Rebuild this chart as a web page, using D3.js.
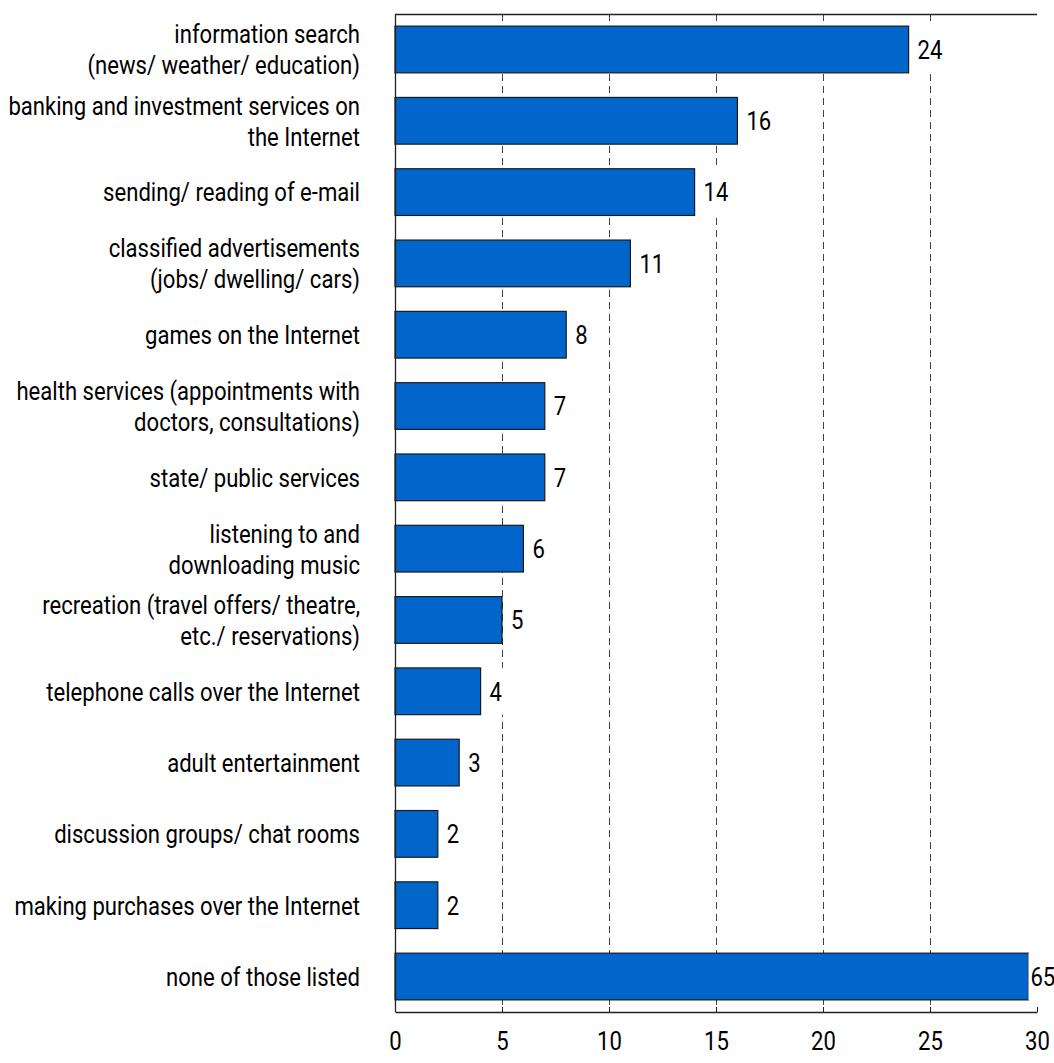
<!DOCTYPE html>
<html><head><meta charset="utf-8">
<script src="https://cdn.jsdelivr.net/npm/d3@7"></script>
<style>body{margin:0;background:#fff}svg text{font-family:Roboto,"DejaVu Sans Condensed",sans-serif;fill:#000}</style>
</head><body><svg id="c" width="1054" height="1063"></svg>
<script>
const categories = [
  ["information search","(news/ weather/ education)"],
  ["banking and investment services on","the Internet"],
  ["sending/ reading of e-mail"],
  ["classified advertisements","(jobs/ dwelling/ cars)"],
  ["games on the Internet"],
  ["health services (appointments with","doctors, consultations)"],
  ["state/ public services"],
  ["listening to and","downloading music"],
  ["recreation (travel offers/ theatre,","etc./ reservations)"],
  ["telephone calls over the Internet"],
  ["adult entertainment"],
  ["discussion groups/ chat rooms"],
  ["making purchases over the Internet"],
  ["none of those listed"]
];
const values = [24,16,14,11,8,7,7,6,5,4,3,2,2,65];
const tickValues = [0,5,10,15,20,25,30];
const axisMax = 30;
const barCap = 29.6;

const FS = 26, SX = 0.85;
const svg = d3.select("#c");
const m = {left:395, right:1037, top:14, bottom:1012};
const x = d3.scaleLinear().domain([0,axisMax]).range([m.left,m.right]);
const y = d3.scaleBand().domain(d3.range(values.length)).range([m.top,m.bottom]).paddingInner(0.345).paddingOuter(0.17);

// gridlines
svg.append("g").selectAll("line").data(tickValues.filter(t=>t>0&&t<axisMax)).join("line")
  .attr("x1",d=>x(d)+0.5).attr("x2",d=>x(d)+0.5).attr("y1",m.top).attr("y2",m.bottom)
  .attr("stroke","#444").attr("stroke-width",1).attr("stroke-dasharray","7,5");

// top border
svg.append("line").attr("x1",m.left).attr("x2",m.right).attr("y1",m.top+0.5).attr("y2",m.top+0.5).attr("stroke","#222").attr("stroke-width",1.3);

// bars
svg.append("g").selectAll("rect").data(values).join("rect")
  .attr("x",x(0)).attr("y",(d,i)=>y(i)).attr("height",y.bandwidth())
  .attr("width",d=>x(Math.min(d,barCap))-x(0))
  .attr("fill","#0066cc").attr("stroke","#1a1a1a").attr("stroke-width",1.2);

// value labels with white backing
const lx = d => d>axisMax ? x(Math.min(d,barCap))+2 : x(d)+9;
const vg = svg.append("g");
const vl = vg.selectAll("g").data(values).join("g");
vl.append("rect").attr("fill","#fff");
vl.append("text")
  .attr("transform",(d,i)=>`translate(${lx(d)},${y(i)+y.bandwidth()/2}) scale(${SX},1)`)
  .attr("dy","0.36em").attr("font-size",FS).text(d=>d);
vl.each(function(d,i){
  const g=d3.select(this);
  const w=g.select("text").node().getComputedTextLength()*SX;
  g.select("rect").attr("x",lx(d)-2).attr("width",w+4).attr("y",y(i)).attr("height",y.bandwidth());
});

// category labels
const cl = svg.append("g").selectAll("text").data(categories).join("text")
  .attr("text-anchor","end").attr("font-size",FS)
  .attr("transform",(d,i)=>`translate(360,${y(i)+y.bandwidth()/2}) scale(${SX},1)`);
cl.each(function(d){
  const t=d3.select(this);
  const n=d.length;
  d.forEach((line,j)=>{
    t.append("tspan").attr("x",0).attr("y",(j-(n-1)/2)*31).attr("dy","0.36em").text(line);
  });
});

// x axis
const ax = svg.append("g").attr("transform",`translate(0,${m.bottom})`)
  .call(d3.axisBottom(x).tickValues(tickValues).tickSize(-5).tickPadding(22).tickSizeOuter(0));
ax.select(".domain").attr("stroke","#222").attr("stroke-width",1.3);
ax.selectAll(".tick line").attr("stroke","#222");
ax.selectAll(".tick text").attr("font-size",FS).attr("fill","#000")
  .attr("y",0).attr("dy","0.36em").attr("transform",`translate(0,29) scale(${SX},1)`);

// left axis
svg.append("line").attr("x1",m.left+0.5).attr("x2",m.left+0.5).attr("y1",m.top).attr("y2",m.bottom).attr("stroke","#222").attr("stroke-width",1.3);
</script></body></html>
